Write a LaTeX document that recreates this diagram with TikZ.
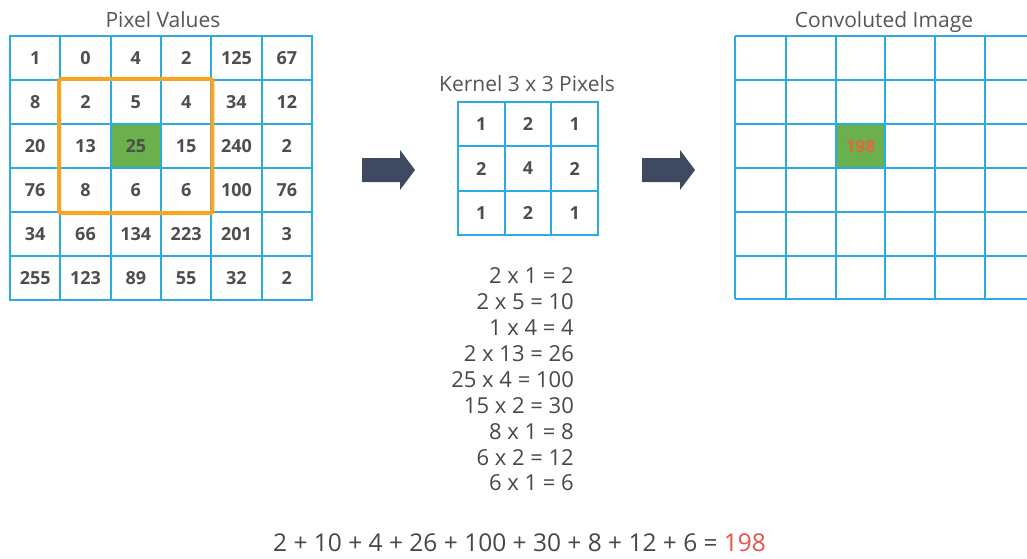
\documentclass[tikz,border=0pt]{standalone}
\usepackage{fontspec}
\setmainfont{Open Sans}
\definecolor{gridblue}{HTML}{2AACE2}
\definecolor{numgray}{HTML}{474747}
\definecolor{cellnum}{HTML}{4E4E4E}
\definecolor{titlegray}{HTML}{555555}
\definecolor{boxorange}{HTML}{F6A623}
\definecolor{cellgreen}{HTML}{6AB04C}
\definecolor{arrowslate}{HTML}{3F4A61}
\definecolor{resred}{HTML}{EB5145}
\definecolor{resorange}{HTML}{E2673A}
\begin{document}
\begin{tikzpicture}[x=1pt,y=-1pt,
  pcell/.style={draw=gridblue, line width=2.2pt, minimum width=50.33pt, minimum height=44pt, inner sep=0pt, text=cellnum, font=\fontsize{18}{20}\selectfont\bfseries},
  kcell/.style={draw=gridblue, line width=2.2pt, minimum width=46.67pt, minimum height=44.33pt, inner sep=0pt, text=cellnum, font=\fontsize{18}{20}\selectfont\bfseries},
  gline/.style={gridblue, line width=2.2pt},
  title/.style={text=titlegray, font=\fontsize{21}{24}\selectfont, inner sep=0pt},
  eqn/.style={text=numgray, font=\fontsize{22}{24}\selectfont, inner sep=0pt, anchor=base east},
  blockarrow/.style={fill=arrowslate}]
\useasboundingbox (0,0) rectangle (1027,558);

% titles
\node[title, anchor=base] (t1) at (163,27) {Pixel Values};
\node[title, anchor=base] (t2) at (527,91) {Kernel 3 x 3 Pixels};
\node[title, anchor=base] (t3) at (884,27) {Convoluted Image};

% pixel grid
\foreach \rowvals [count=\r] in {{1,0,4,2,125,67},{8,2,5,4,34,12},{20,13,25,15,240,2},{76,8,6,6,100,76},{34,66,134,223,201,3},{255,123,89,55,32,2}} {
  \foreach \v [count=\c] in \rowvals {
    \ifnum\r=3 \ifnum\c=3
      \node[pcell, fill=cellgreen] (p-\r-\c) at ({10+50.33*(\c-0.5)},{36+44*(\r-0.5)}) {\v};
    \else
      \node[pcell] (p-\r-\c) at ({10+50.33*(\c-0.5)},{36+44*(\r-0.5)}) {\v};
    \fi\else
      \node[pcell] (p-\r-\c) at ({10+50.33*(\c-0.5)},{36+44*(\r-0.5)}) {\v};
    \fi
  }
}
\draw[boxorange, line width=4pt, rounded corners=2pt] (p-2-2.north west) rectangle (p-4-4.south east);

% kernel
\foreach \rowvals [count=\r] in {{1,2,1},{2,4,2},{1,2,1}} {
  \foreach \v [count=\c] in \rowvals {
    \node[kcell] (k-\r-\c) at ({458+46.67*(\c-0.5)},{102+44.33*(\r-0.5)}) {\v};
  }
}

% arrows
\fill[blockarrow] (362,158) -- (400,158) -- (400,150) -- (415,170) -- (400,190) -- (400,182) -- (362,182) -- cycle;
\fill[blockarrow] (642,158) -- (680,158) -- (680,150) -- (695,170) -- (680,190) -- (680,182) -- (642,182) -- cycle;

% convoluted image grid
\node[draw=gridblue, line width=2.2pt, fill=cellgreen, minimum width=49pt, minimum height=44pt, inner sep=0pt, text=resorange, font=\fontsize{17}{19}\selectfont\bfseries] (res) at (860.5,146) {198};
\foreach \y in {36,80,124,168,212,256,299} {
  \draw[gline] (735,\y) -- (1027,\y);
}
\foreach \x in {735,786,836,885,935,985} {
  \draw[gline] (\x,36) -- (\x,299);
}

% equations
\node[eqn] (e1) at (574,283) {2 x 1 = 2};
\node[eqn] (e2) at (574,309) {2 x 5 = 10};
\node[eqn] (e3) at (574,335) {1 x 4 = 4};
\node[eqn] (e4) at (574,361) {2 x 13 = 26};
\node[eqn] (e5) at (574,387) {25 x 4 = 100};
\node[eqn] (e6) at (574,413) {15 x 2 = 30};
\node[eqn] (e7) at (574,439) {8 x 1 = 8};
\node[eqn] (e8) at (574,465) {6 x 2 = 12};
\node[eqn] (e9) at (574,490) {6 x 1 = 6};

\node[text=numgray, font=\fontsize{24.5}{27}\selectfont, inner sep=0pt, anchor=base west] (sum) at (273,551) {2 + 10 + 4 + 26 + 100 + 30 + 8 + 12 + 6 = \textcolor{resred}{198}};
\end{tikzpicture}
\end{document}
